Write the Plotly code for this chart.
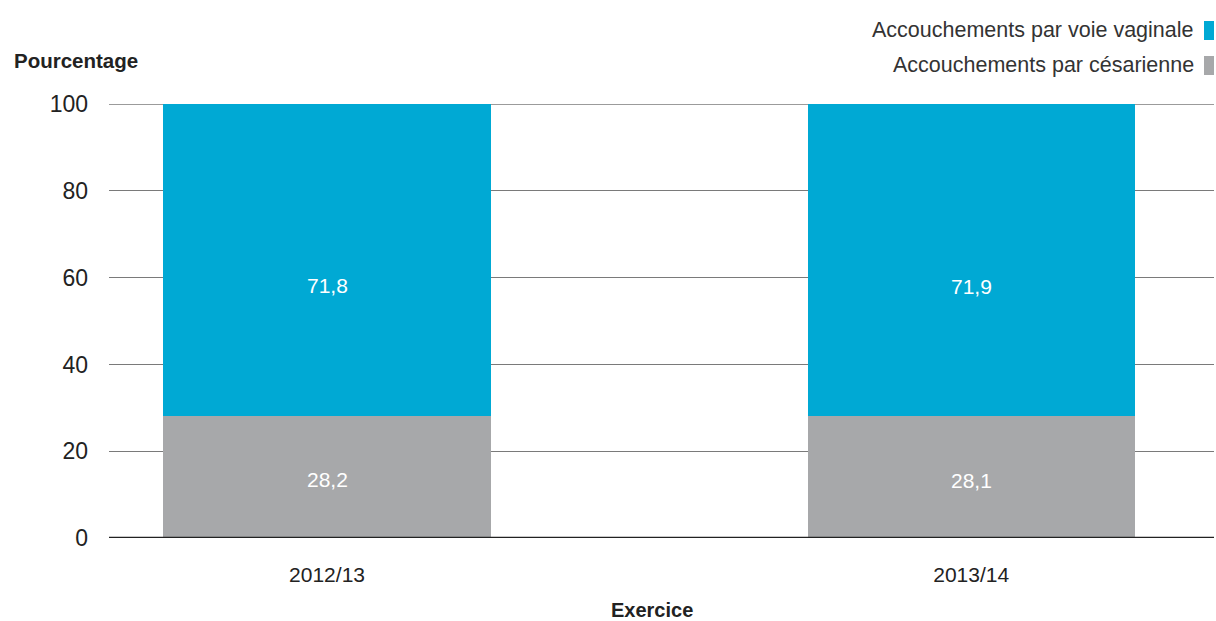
import plotly.graph_objects as go

categories = ["2012/13", "2013/14"]
vaginale = [71.8, 71.9]
cesarienne = [28.2, 28.1]
series_names = ["Accouchements par voie vaginale", "Accouchements par césarienne"]
y_ticks = [0, 20, 40, 60, 80, 100]

BLUE = "#00A9D4"
GRAY = "#A7A8AA"
FONT = "Liberation Sans, Arial, sans-serif"

def fr(v):
    return f"{v:.1f}".replace(".", ",")

fig = go.Figure()
fig.add_trace(go.Bar(
    x=categories, y=cesarienne, name=series_names[1], marker_color=GRAY,
    width=0.508, marker_line_width=0, showlegend=False, hoverinfo="skip"))
fig.add_trace(go.Bar(
    x=categories, y=vaginale, name=series_names[0], marker_color=BLUE,
    width=0.508, marker_line_width=0, showlegend=False, hoverinfo="skip"))

# value labels (white, inside the segments)
for i, cat in enumerate(categories):
    fig.add_annotation(x=cat, y=cesarienne[i] / 2, text=fr(cesarienne[i]), showarrow=False,
                       yshift=-3, font=dict(color="white", size=21, family=FONT))
    fig.add_annotation(x=cat, y=cesarienne[i] + vaginale[i] / 2, text=fr(vaginale[i]),
                       showarrow=False, yshift=-26,
                       font=dict(color="white", size=21, family=FONT))

fig.update_layout(
    barmode="stack",
    width=1216, height=621,
    margin=dict(l=109, r=2, t=104, b=83),
    paper_bgcolor="white", plot_bgcolor="white",
    font=dict(family=FONT, color="#222222"),
)
fig.update_xaxes(
    type="category", range=[-0.3385, 1.377], showgrid=False,
    tickfont=dict(size=21, color="#222222"), ticks="", ticklabelstandoff=22,
    showline=False, zeroline=False,
)
fig.update_yaxes(
    range=[0, 100.05], tickvals=y_ticks, showgrid=True, gridcolor="#7A7A7A",
    gridwidth=1.2, zeroline=False, showline=False,
    tickfont=dict(size=23, color="#222222"), ticklabelstandoff=20,
)
# top gridline and zero baseline
fig.add_hline(y=100, line=dict(color="#7A7A7A", width=1.2), layer="below")
fig.add_hline(y=0, line=dict(color="#222222", width=2.5), layer="above")

# axis titles
fig.add_annotation(text="<b>Pourcentage</b>", xref="paper", yref="paper",
                   x=(12-109)/1105, y=(538-60)/434, xanchor="left", yanchor="middle",
                   showarrow=False, font=dict(size=20.5, color="#222222", family=FONT))
fig.add_annotation(text="<b>Exercice</b>", xref="paper", yref="paper",
                   x=(652-109)/1105, y=(538-610)/434, xanchor="center", yanchor="middle",
                   showarrow=False, font=dict(size=20, color="#222222", family=FONT))

# custom legend (text right-aligned with swatch on the right)
legend_items = [(series_names[0], BLUE, 30), (series_names[1], GRAY, 65)]
for name, col, ypix in legend_items:
    fig.add_annotation(text=name, xref="paper", yref="paper",
                       x=(1196-109)/1105, y=(538-ypix)/434, xanchor="right", yanchor="middle",
                       showarrow=False, font=dict(size=21.5, color="#333333", family=FONT))
    fig.add_shape(type="rect", xref="paper", yref="paper",
                  x0=(1204-109)/1105, x1=(1214-109)/1105,
                  y0=(538-ypix-10)/434, y1=(538-ypix+9)/434,
                  fillcolor=col, line_width=0)

fig.write_html("out.html", config={"displayModeBar": False},
               post_script="document.body.style.margin='0';document.body.style.overflow='hidden';")
